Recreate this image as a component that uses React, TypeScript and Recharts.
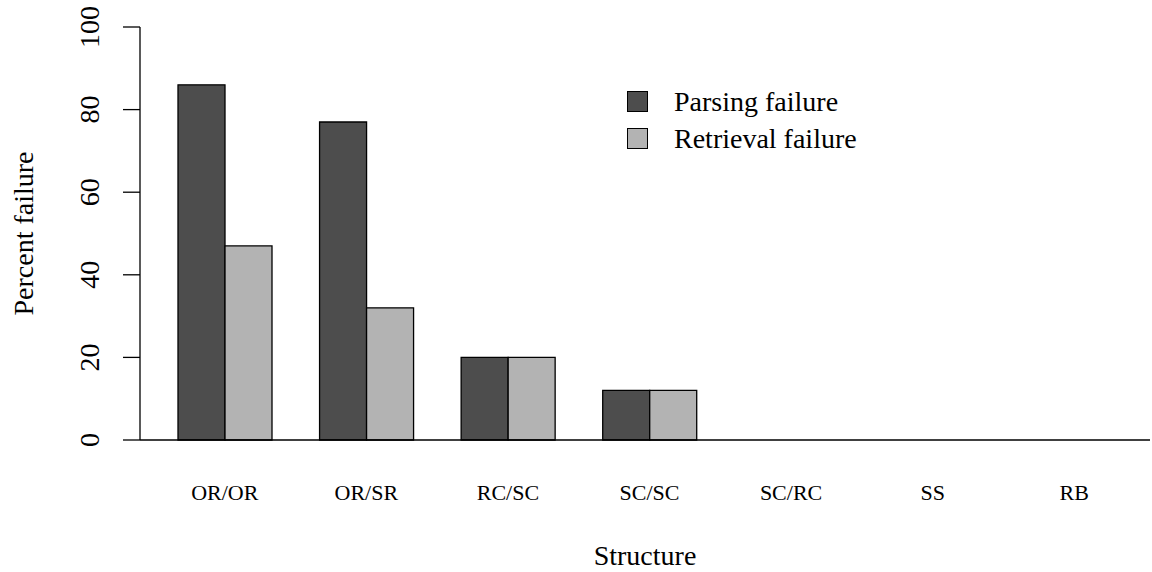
import { BarChart, Bar, XAxis, YAxis, Legend, Label } from "recharts";

const structures = ["OR/OR", "OR/SR", "RC/SC", "SC/SC", "SC/RC", "SS", "RB"];
const parsingFailure = [86, 77, 20, 12, 0, 0, 0];
const retrievalFailure = [47, 32, 20, 12, 0, 0, 0];
const yTicks = [0, 20, 40, 60, 80, 100];

const data = structures.map((s, i) => ({
  structure: s,
  parsing: parsingFailure[i],
  retrieval: retrievalFailure[i],
}));

const FONT = '"Liberation Serif", "Times New Roman", serif';
const DARK = "#4d4d4d";
const LIGHT = "#b3b3b3";

function XTick({ x, y, payload }: any) {
  return (
    <text x={x} y={y} dy={60} textAnchor="middle" fontSize={22} fontFamily={FONT} fill="#000">
      {payload.value}
    </text>
  );
}

function YTick({ x, y, payload }: any) {
  return (
    <text
      x={x}
      y={y}
      transform={`rotate(-90, ${x}, ${y})`}
      textAnchor="middle"
      fontSize={28}
      fontFamily={FONT}
      fill="#000"
    >
      {payload.value}
    </text>
  );
}

function YLabel({ viewBox }: any) {
  const cx = viewBox.x + 33;
  const cy = viewBox.y + viewBox.height / 2;
  return (
    <text
      x={cx}
      y={cy}
      transform={`rotate(-90, ${cx}, ${cy})`}
      textAnchor="middle"
      fontSize={28}
      fontFamily={FONT}
      fill="#000"
    >
      Percent failure
    </text>
  );
}

function LegendBox() {
  const items = [
    { label: "Parsing failure", color: DARK },
    { label: "Retrieval failure", color: LIGHT },
  ];
  return (
    <div style={{ fontFamily: FONT, fontSize: 28, color: "#000" }}>
      {items.map((it) => (
        <div key={it.label} style={{ display: "flex", alignItems: "center", height: 37 }}>
          <span
            style={{
              display: "inline-block",
              width: 19,
              height: 19,
              background: it.color,
              border: "1.3px solid #000",
              marginRight: 26,
            }}
          />
          <span>{it.label}</span>
        </div>
      ))}
    </div>
  );
}

export default function App() {
  return (
    <div style={{ position: "absolute", left: 0, top: 0, background: "#fff" }}>
      <BarChart
        width={1152}
        height={572}
        data={data}
        margin={{ top: 27, right: 2, bottom: 0, left: 0 }}
        barCategoryGap={24}
        barGap={0}
      >
        <XAxis
          dataKey="structure"
          height={132}
          padding={{ left: 14, right: 5 }}
          axisLine={{ stroke: "#000", strokeWidth: 1.3 }}
          tickLine={false}
          tickSize={0}
          tickMargin={0}
          tick={<XTick />}
          interval={0}
        >
          <Label
            value="Structure"
            position="insideBottom"
            offset={7}
            style={{ fontFamily: FONT, fontSize: 28, fill: "#000" }}
          />
        </XAxis>
        <YAxis
          width={140}
          domain={[0, 100]}
          ticks={yTicks}
          axisLine={{ stroke: "#000", strokeWidth: 1.3 }}
          tickLine={{ stroke: "#000", strokeWidth: 1.3 }}
          tickSize={17}
          tickMargin={24}
          tick={<YTick />}
          label={<YLabel />}
        />
        <Legend
          layout="horizontal"
          verticalAlign="middle"
          align="center"
          content={<LegendBox />}
          wrapperStyle={{ top: 83, left: 627, width: "auto" }}
        />
        <Bar dataKey="parsing" fill={DARK} stroke="#000" strokeWidth={1.3} isAnimationActive={false} />
        <Bar dataKey="retrieval" fill={LIGHT} stroke="#000" strokeWidth={1.3} isAnimationActive={false} />
      </BarChart>
    </div>
  );
}
